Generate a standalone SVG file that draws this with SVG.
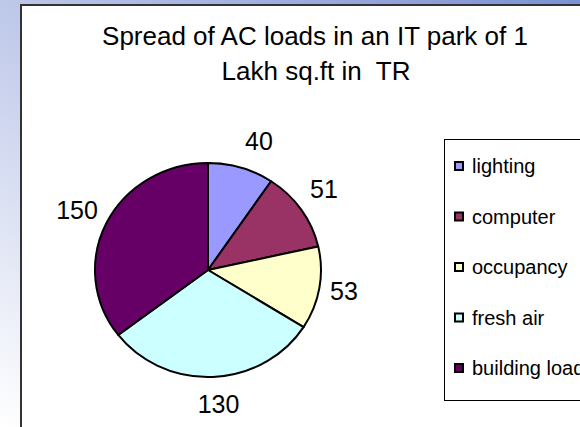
<svg xmlns="http://www.w3.org/2000/svg" width="580" height="427" viewBox="0 0 580 427">
<defs>
<linearGradient id="bg" x1="1" y1="0" x2="0" y2="1">
<stop offset="0" stop-color="#7c90d3"/>
<stop offset="1" stop-color="#ffffff"/>
</linearGradient>
</defs>
<style>
text{font-family:"Liberation Sans",Arial,sans-serif;fill:#000;white-space:pre}
.t{font-size:26px;text-anchor:middle}
.l{font-size:25px;text-anchor:middle}
.g{font-size:20px}
.s{stroke:#000;stroke-width:2;stroke-linejoin:round}
.k{stroke:#000;stroke-width:2}
</style>
<rect x="0" y="0" width="580" height="427" fill="url(#bg)"/>
<rect id="chart-area" x="21" y="5" width="570" height="440" fill="#fff" stroke="#333" stroke-width="2"/>
<g id="title">
<text class="t" x="315" y="45">Spread of AC loads in an IT park of 1</text>
<text class="t" x="316" y="80">Lakh sq.ft in  TR</text>
</g>
<g id="pie">
<path id="lighting" class="s" fill="#9999FF" d="M208,270 L208,163 A113,107 0 0 1 271.12,181.25 Z"/>
<path id="computer" class="s" fill="#993366" d="M208,270 L271.12,181.25 A113,107 0 0 1 318.22,246.41 Z"/>
<path id="occupancy" class="s" fill="#FFFFCC" d="M208,270 L318.22,246.41 A113,107 0 0 1 303.55,327.12 Z"/>
<path id="fresh-air" class="s" fill="#CCFFFF" d="M208,270 L303.55,327.12 A113,107 0 0 1 118.22,334.98 Z"/>
<path id="building-load" class="s" fill="#660066" d="M208,270 L118.22,334.98 A113,107 0 0 1 208,163 Z"/>
</g>
<g id="labels">
<text class="l" x="259" y="150">40</text>
<text class="l" x="324" y="198">51</text>
<text class="l" x="344" y="300">53</text>
<text class="l" x="218.5" y="413">130</text>
<text class="l" x="77" y="219">150</text>
</g>
<g id="legend">
<rect x="444.5" y="139.5" width="160" height="261" fill="#fff" stroke="#000" stroke-width="1"/>
<rect class="k" x="455" y="162" width="8" height="8" fill="#9999FF"/>
<text class="g" x="472" y="173">lighting</text>
<rect class="k" x="455" y="212.5" width="8" height="8" fill="#993366"/>
<text class="g" x="472" y="223.5">computer</text>
<rect class="k" x="455" y="263" width="8" height="8" fill="#FFFFCC"/>
<text class="g" x="472" y="274">occupancy</text>
<rect class="k" x="455" y="313.5" width="8" height="8" fill="#CCFFFF"/>
<text class="g" x="472" y="324.5">fresh air</text>
<rect class="k" x="455" y="364" width="8" height="8" fill="#660066"/>
<text class="g" x="472" y="375">building load</text>
</g>
</svg>
